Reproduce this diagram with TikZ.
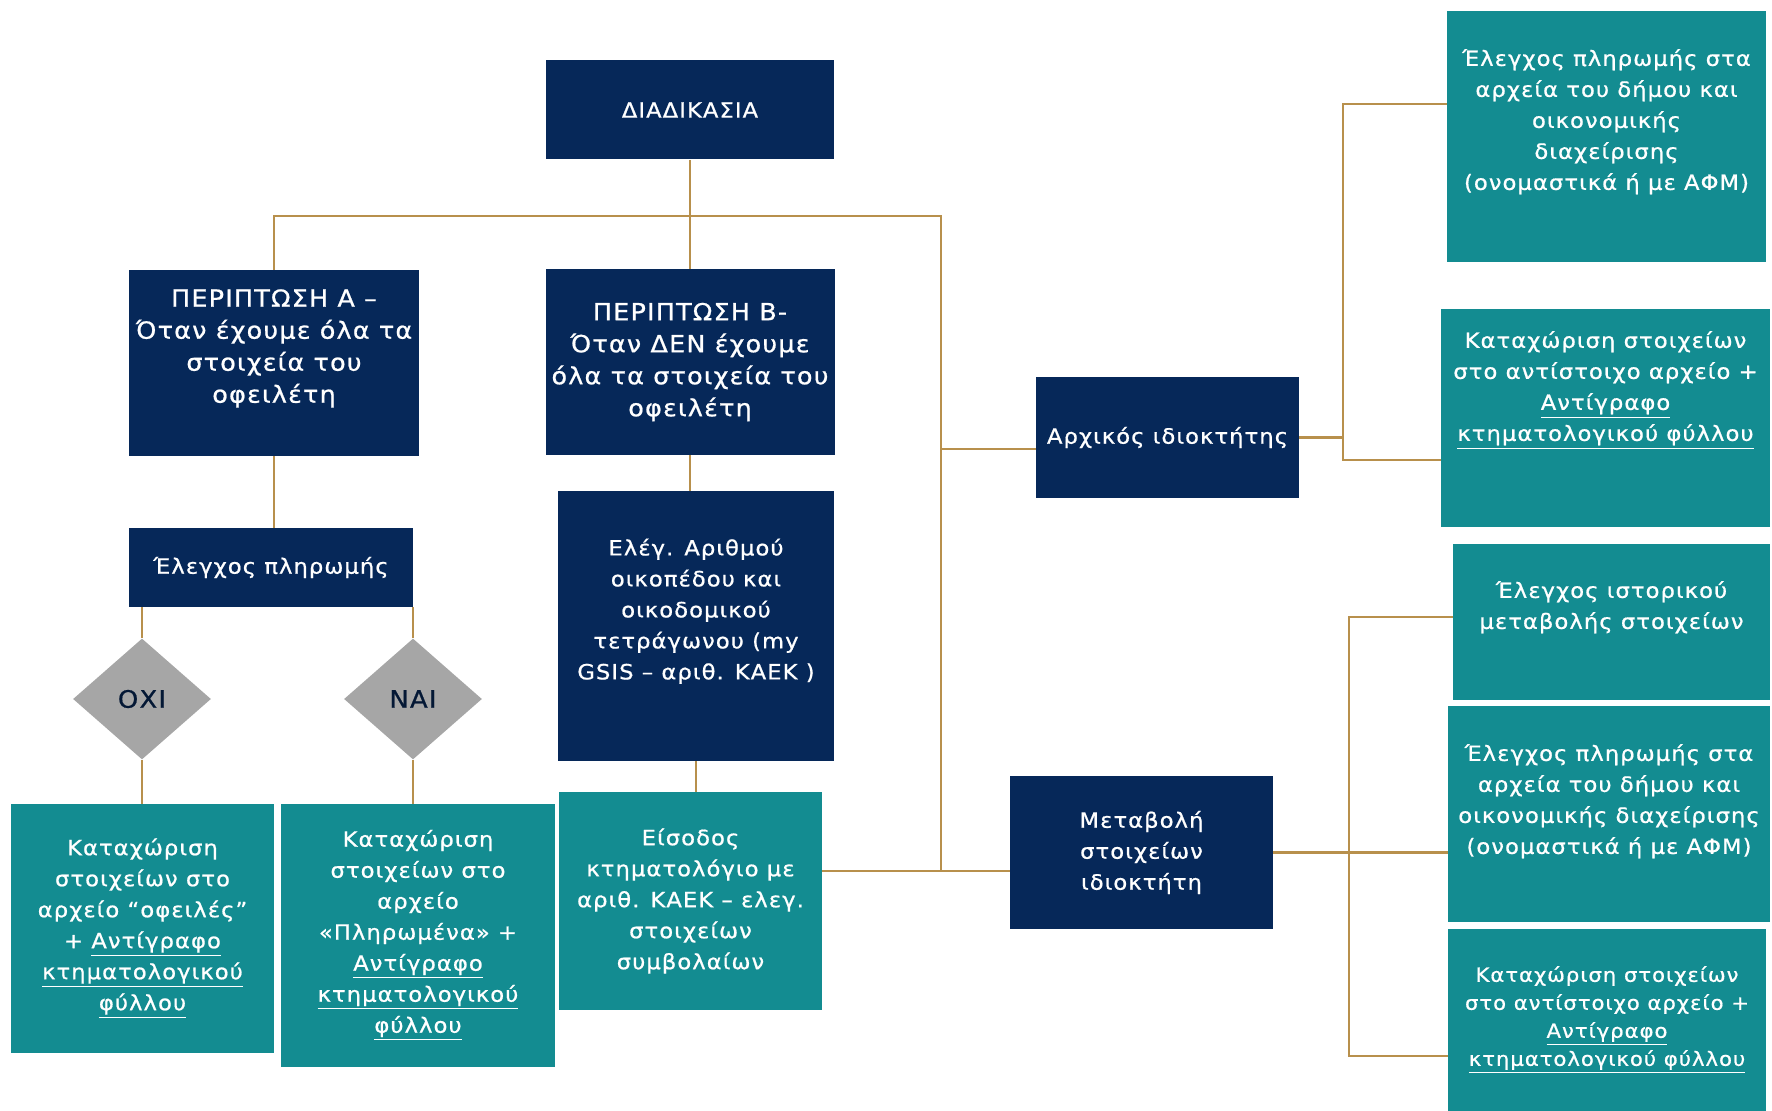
\documentclass[tikz,border=0pt]{standalone}
\usepackage{fontspec}
\usetikzlibrary{shapes.geometric}
\newfontfamily\boxfont[LetterSpace=5,FakeStretch=1.08,FakeBold=0.8]{DejaVu Sans}
\newcommand{\padlow}[1]{\rule[-#1]{0pt}{#1}}
\definecolor{navyblue}{HTML}{062859}
\definecolor{seateal}{HTML}{138C91}
\definecolor{goldline}{HTML}{B8904C}
\definecolor{choicegray}{HTML}{A6A6A6}
\tikzset{box/.style={rectangle,align=center,text=white,inner sep=2pt,
  font={\boxfont\fontsize{10.5}{15.5}\selectfont}}}
\tikzset{navy/.style={box,fill=navyblue}}
\tikzset{sea/.style={box,fill=seateal}}
\tikzset{bigtext/.style={font={\boxfont\fontsize{11.8}{16}\selectfont}}}
\tikzset{choice/.style={diamond,fill=choicegray,text=navyblue!60!black,inner sep=0pt,
  minimum width=69pt,minimum height=60.5pt,font={\boxfont\fontsize{12}{15.5}\selectfont}}}
\tikzset{link/.style={draw=goldline,line width=1.2pt}}

\begin{document}
\begin{tikzpicture}[x=0.5pt,y=-0.5pt]
      \useasboundingbox (0,0) rectangle (1772,1111);
      \node (proc)[navy,minimum width=144pt,minimum height=49.5pt] at (690,110) {ΔΙΑΔΙΚΑΣΙΑ};
      \node (caseA)[navy,bigtext,minimum width=145pt,minimum height=93pt] at (274,363)
        {ΠΕΡΙΠΤΩΣΗ Α –\\Όταν έχουμε όλα τα\\στοιχεία του\\οφειλέτη\padlow{17pt}};
      \node (caseB)[navy,bigtext,minimum width=144.5pt,minimum height=93pt] at (690,362)
        {ΠΕΡΙΠΤΩΣΗ Β-\\Όταν ΔΕΝ έχουμε\\όλα τα στοιχεία του\\οφειλέτη};
      \node (pay)[navy,minimum width=142pt,minimum height=39.5pt] at (271,567.5) {Έλεγχος πληρωμής};
      \node (check)[navy,minimum width=138pt,minimum height=135pt] at (696,626)
        {Ελέγ. Αριθμού\\οικοπέδου και\\οικοδομικού\\τετράγωνου (my\\GSIS – αριθ. ΚΑΕΚ )\padlow{17pt}};
      \node (no)[choice] at (142,699) {ΟΧΙ};
      \node (yes)[choice] at (413,699) {ΝΑΙ};
      \node (debt)[sea,minimum width=131.5pt,minimum height=124.5pt] at (142.5,928.5)
        {Καταχώριση\\στοιχείων στο\\αρχείο “οφειλές”\\+ \underline{Αντίγραφο}\\\underline{κτηματολογικού}\\\underline{φύλλου}};
      \node (paid)[sea,minimum width=137pt,minimum height=131.5pt] at (418,935.5)
        {Καταχώριση\\στοιχείων στο\\αρχείο\\«Πληρωμένα» +\\\underline{Αντίγραφο}\\\underline{κτηματολογικού}\\\underline{φύλλου}};
      \node (entry)[sea,minimum width=131.5pt,minimum height=109pt] at (690.5,901)
        {Είσοδος\\κτηματολόγιο με\\αριθ. ΚΑΕΚ – ελεγ.\\στοιχείων\\συμβολαίων};
      \node (owner)[navy,minimum width=131.5pt,minimum height=60.5pt] at (1167.5,437.5) {Αρχικός ιδιοκτήτης};
      \node (change)[navy,minimum width=131.5pt,minimum height=76.5pt] at (1141.5,852.5)
        {Μεταβολή\\στοιχείων\\ιδιοκτήτη};
      \node (r1)[sea,minimum width=159.5pt,minimum height=125.5pt] at (1606.5,136.5)
        {Έλεγχος πληρωμής στα\\αρχεία του δήμου και\\οικονομικής\\διαχείρισης\\(ονομαστικά ή με ΑΦΜ)\padlow{17pt}};
      \node (r2)[sea,minimum width=164.5pt,minimum height=109pt] at (1605.5,418)
        {Καταχώριση στοιχείων\\στο αντίστοιχο αρχείο +\\\underline{Αντίγραφο}\\\underline{κτηματολογικού φύλλου}\padlow{32pt}};
      \node (r3)[sea,minimum width=158.5pt,minimum height=78pt] at (1611.5,622)
        {Έλεγχος ιστορικού\\μεταβολής στοιχείων\padlow{17pt}};
      \node (r4)[sea,minimum width=161pt,minimum height=108pt] at (1609,814)
        {Έλεγχος πληρωμής στα\\αρχεία του δήμου και\\οικονομικής διαχείρισης\\(ονομαστικά ή με ΑΦΜ)\padlow{15pt}};
      \node (r5)[sea,minimum width=159pt,minimum height=91pt,font={\boxfont\fontsize{9.8}{14}\selectfont}] at (1607,1020)
        {Καταχώριση στοιχείων\\στο αντίστοιχο αρχείο +\\\underline{Αντίγραφο}\\\underline{κτηματολογικού φύλλου}};
      \coordinate (top) at (941,216);
      \coordinate (low) at (941,871);
      \coordinate (ownerin) at (941,449);
      \coordinate (up1) at (1343,104);
      \coordinate (dn1) at (1343,460);
      \coordinate (up2) at (1349,617);
      \coordinate (dn2) at (1349,1056);
      \foreach \a/\b in {proc.south/caseB.north,caseA.south/pay.north,caseB.south/check.north,
          check.south/entry.north,no.south/debt.north,yes.south/paid.north}
        \draw[link] (\a) -- (\a |- \b);
      \foreach \a/\b in {no.north/pay.south,yes.north/pay.south}
        \draw[link] (\a) -- (\a |- \b);

      \draw[link] (caseA.north) |- (top) -- (low);
      \draw[link] (low -| entry.east) -- (low) -- (low -| change.west);
      \draw[link] (ownerin) -- (ownerin -| owner.west);
      \draw[link] (owner.east) -- (owner.east -| up1);
      \draw[link] (r1.west |- up1) -- (up1) -- (dn1) -- (dn1 -| r2.west);
      \draw[link] (change.east) -- (change.east -| r4.west);
      \draw[link] (r3.west |- up2) -- (up2) -- (dn2) -- (dn2 -| r5.west);
    \end{tikzpicture}
\end{document}
